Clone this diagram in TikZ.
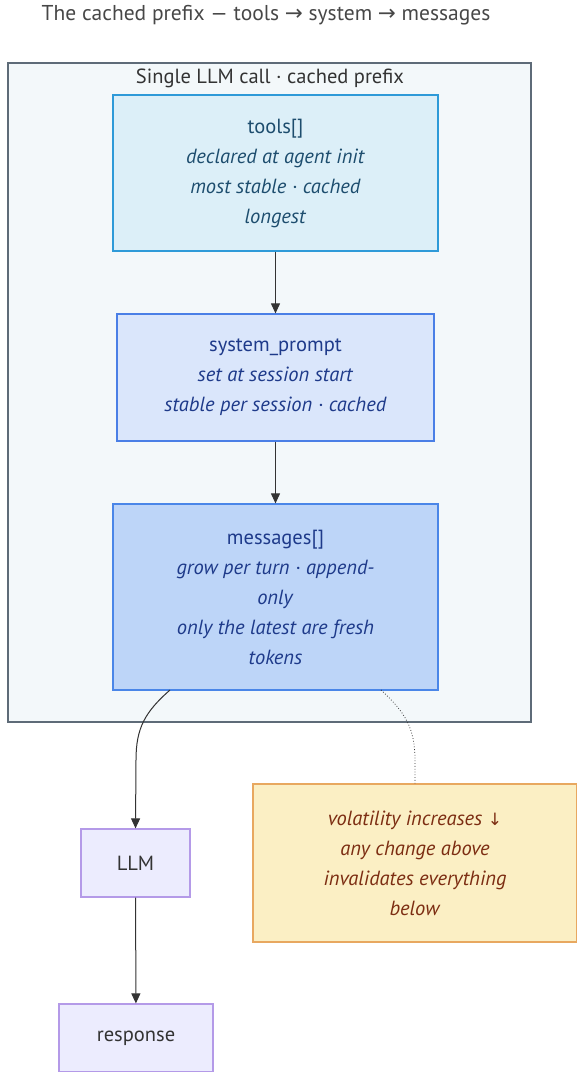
\documentclass[tikz,border=0pt]{standalone}
\usepackage{fontspec}
\setmainfont{PT Sans}
\newfontfamily\arrowfont{DejaVu Sans}
\usepackage{tikz}
\usetikzlibrary{arrows.meta}

\definecolor{clusterfill}{HTML}{F3F8FA}
\definecolor{clusterline}{HTML}{5E6B78}
\definecolor{toolsfill}{HTML}{DCEFF8}
\definecolor{toolsline}{HTML}{2E9AD8}
\definecolor{toolstext}{HTML}{1D4D6E}
\definecolor{sysfill}{HTML}{DAE6FB}
\definecolor{sysline}{HTML}{4A7FE6}
\definecolor{msgfill}{HTML}{BDD5F8}
\definecolor{msgline}{HTML}{4A86E8}
\definecolor{bluetext}{HTML}{1E3A8A}
\definecolor{llmfill}{HTML}{ECECFE}
\definecolor{llmline}{HTML}{B49AE8}
\definecolor{notefill}{HTML}{FBEFC4}
\definecolor{noteline}{HTML}{E8A860}
\definecolor{notetext}{HTML}{7C2D12}
\definecolor{edge}{HTML}{333333}

\tikzset{
	layer/.style={draw, line width=1.2pt, align=center, inner sep=0pt,
		font=\fontsize{20.5}{30}\selectfont},
	plain/.style={draw=llmline, fill=llmfill, line width=1.2pt, inner sep=0pt,
		text=edge, font=\fontsize{20.5}{30}\selectfont},
	flow/.style={draw=edge, line width=1pt, -{Triangle[length=10pt,width=9pt]}},
}

\begin{document}
\begin{tikzpicture}[x=1pt,y=-1pt]
	\useasboundingbox (0,0) rectangle (577,1072);
	% title
	\node (title) at (266,15) {\fontsize{21.5}{24}\selectfont\color{edge!90}The cached prefix — tools {\arrowfont →} system {\arrowfont →} messages};
	% cluster
	\draw[draw=clusterline, fill=clusterfill, line width=1.2pt] (8,63) rectangle (531,722);
	\node (cluster) at (270,78) {\fontsize{20.5}{24}\selectfont\color{edge}Single LLM call · cached prefix};
	% prefix layers
	\node[layer, draw=toolsline, fill=toolsfill, text=toolstext, minimum width=325pt, minimum height=156pt] (tools) at (275.5,173)
		{tools[]\\ \textit{declared at agent init}\\ \textit{most stable · cached}\\ \textit{longest}};
	\node[layer, draw=sysline, fill=sysfill, text=bluetext, minimum width=317pt, minimum height=127pt] (system) at (275.5,377.5)
		{system\_prompt\\ \textit{set at session start}\\ \textit{stable per session · cached}};
	\node[layer, draw=msgline, fill=msgfill, text=bluetext, minimum width=325pt, minimum height=186pt] (messages) at (275.5,597)
		{messages[]\\ \textit{grow per turn · append-}\\ \textit{only}\\ \textit{only the latest are fresh}\\ \textit{tokens}};
	% call and note
	\node[plain, minimum width=109pt, minimum height=68pt] (llm) at (135.5,863) {LLM};
	\node[plain, minimum width=154pt, minimum height=68pt] (response) at (136,1038) {response};
	\node[layer, draw=noteline, fill=notefill, text=notetext, minimum width=324pt, minimum height=158pt] (note) at (415,863)
		{\textit{volatility increases {\arrowfont\upshape\fontsize{17}{30}\selectfont ↓}}\\ \textit{any change above}\\ \textit{invalidates everything}\\ \textit{below}};
	% edges
	\draw[flow] (tools) -- (system);
	\draw[flow] (system) -- (messages);
	\coordinate (msgout) at (170,690);
	\coordinate (noteout) at (381,690);
	\draw[flow] (msgout) .. controls (145,712) and (136,728) .. (136,760) -- (llm.north);
	\draw[flow] (llm) -- (response);
	\draw[draw=edge, line width=0.8pt, dotted] (noteout) .. controls (405,712) and (415,728) .. (415,760) -- (note.north);
\end{tikzpicture}
\end{document}
